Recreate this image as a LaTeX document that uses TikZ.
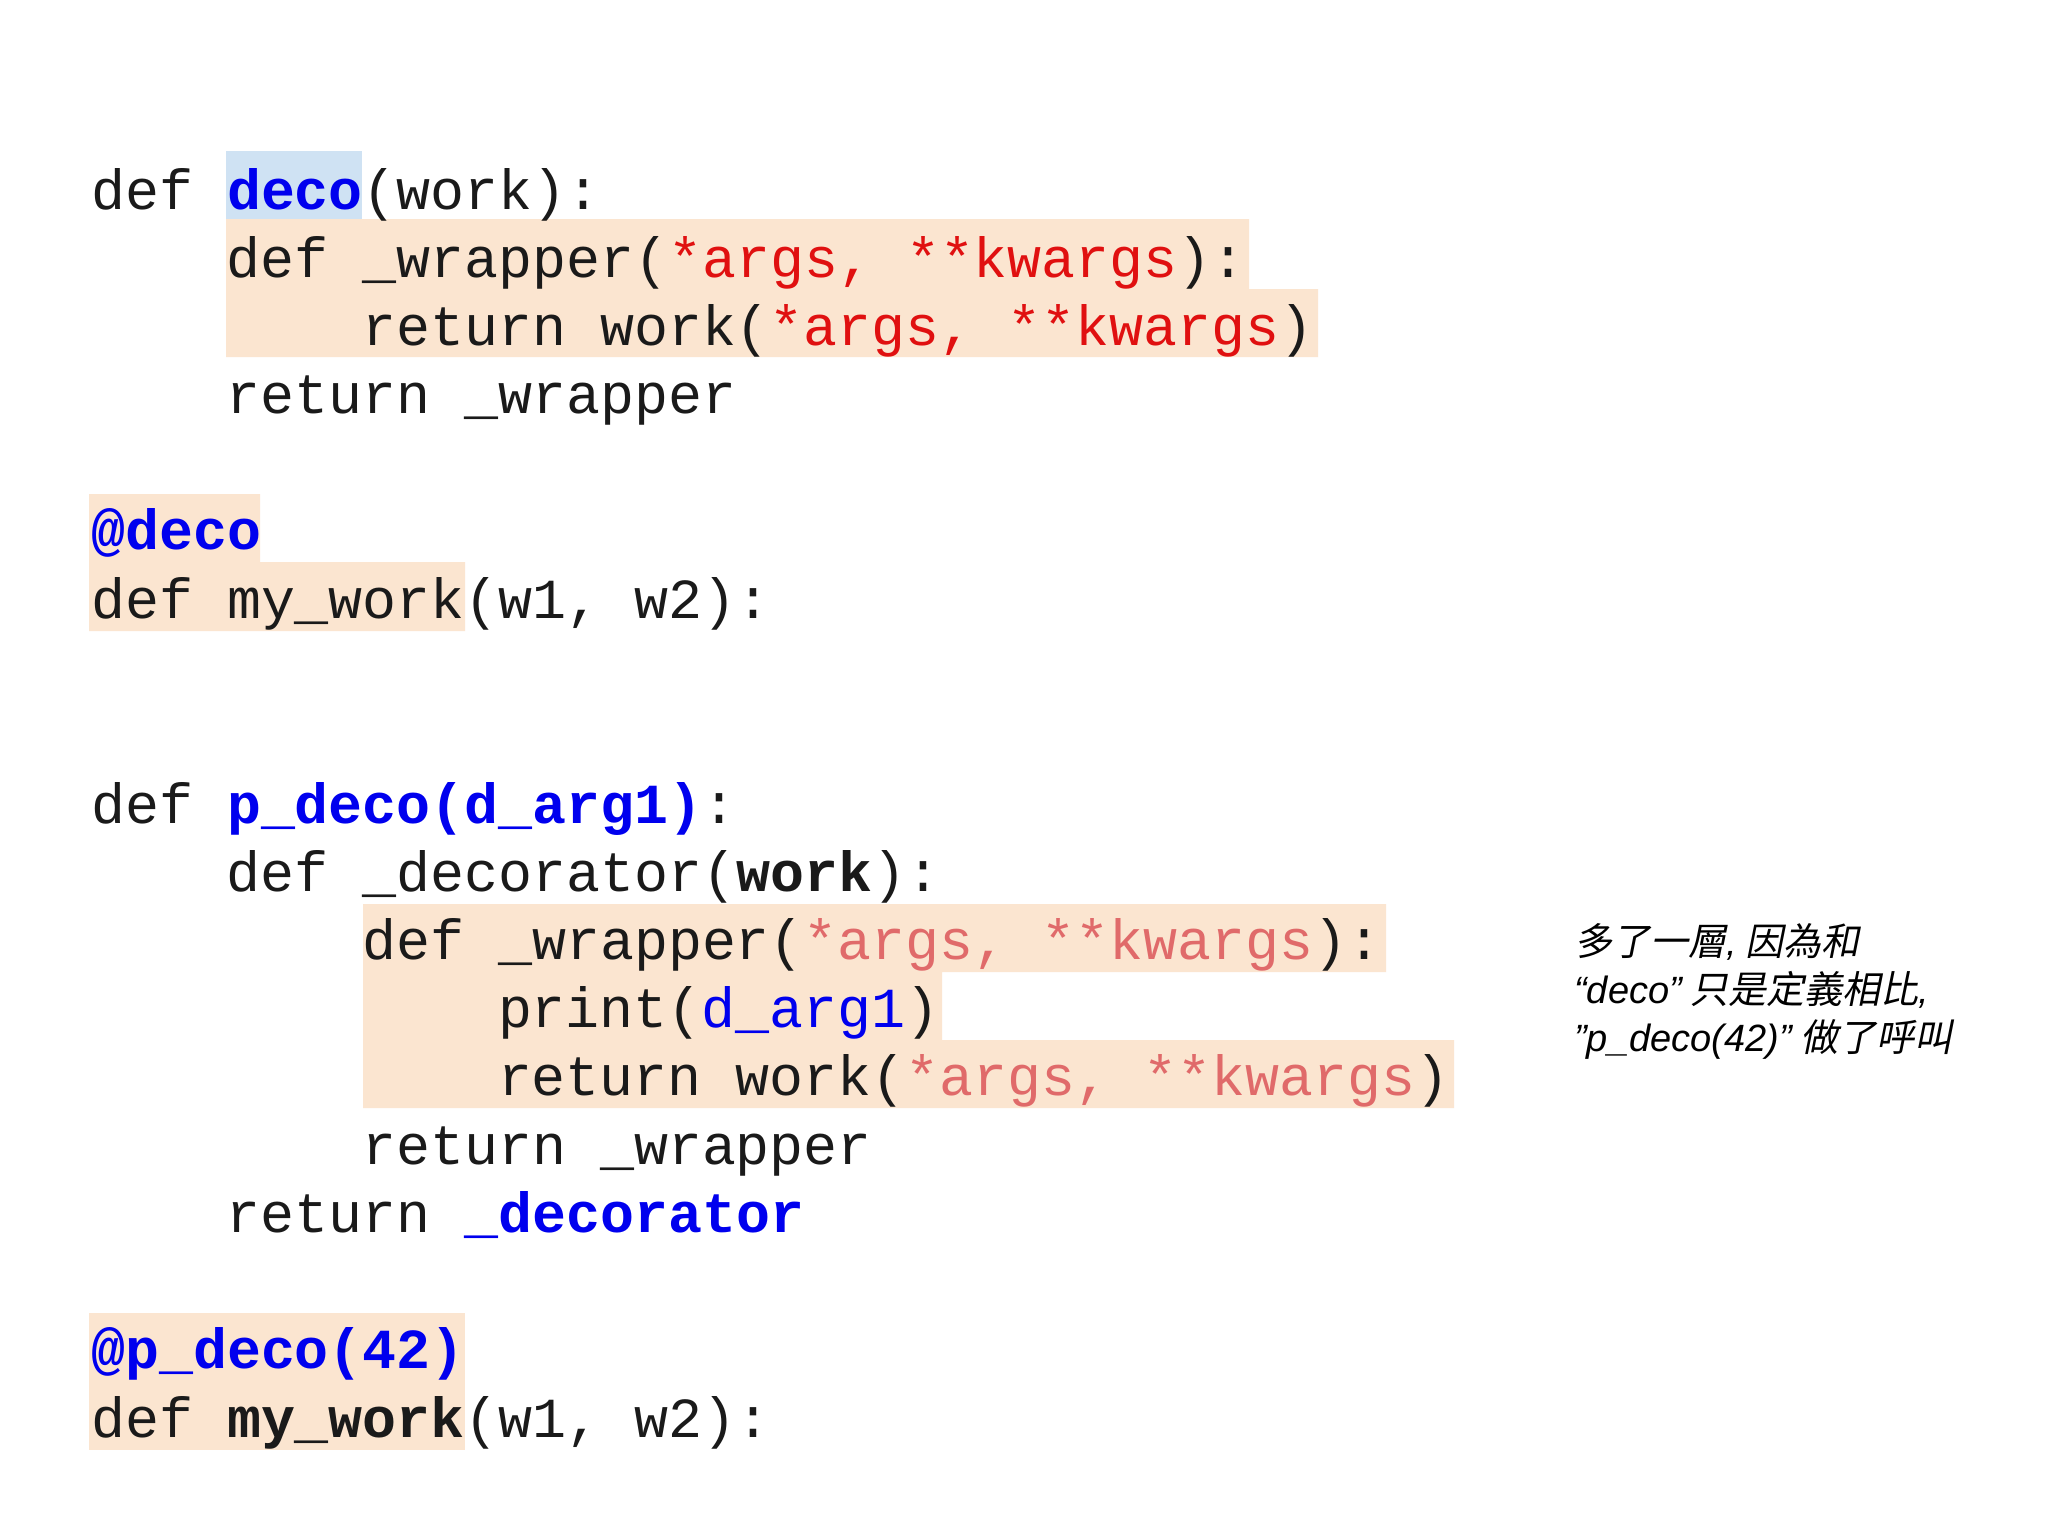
\documentclass[tikz,border=0pt]{standalone}
\usepackage{fontspec}
\setmonofont{Liberation Mono}
\newfontfamily\cjk[FakeSlant=0.2]{Noto Sans CJK TC}
\newfontfamily\latn{Liberation Sans}
\definecolor{hlo}{HTML}{FBE5D0}
\definecolor{hlb}{HTML}{CFE2F3}
\definecolor{kb}{HTML}{0000EE}
\definecolor{kr}{HTML}{E01010}
\definecolor{kl}{HTML}{E06A6A}
\definecolor{tx}{HTML}{1A1A1A}
\newcommand{\kwB}[1]{\textcolor{kb}{\textbf{#1}}}
\newcommand{\kwR}[1]{\textcolor{kr}{#1}}
\newcommand{\kwL}[1]{\textcolor{kl}{#1}}
\begin{document}
\begin{tikzpicture}[x=1pt,y=-1pt,
  code/.style={anchor=base west,inner sep=0pt,text=tx,font=\fontsize{56.6}{56}\selectfont\ttfamily},
  note/.style={anchor=base west,inner sep=0pt,text=black,font=\fontsize{38}{38}\selectfont\cjk}]
\fill[white] (0,0) rectangle (2048,1536);
\useasboundingbox (0,0) rectangle (2048,1536);
% highlights
\fill[hlb] (226,151) rectangle (362,219);
\fill[hlo] (226,219) -- (1249,219) -- (1249,289) -- (1318,289) -- (1318,357) -- (226,357) -- cycle;
\fill[hlo] (89,494) -- (260,494) -- (260,562) -- (465,562) -- (465,631) -- (89,631) -- cycle;
\fill[hlo] (363,904) -- (1386,904) -- (1386,972) -- (942,972) -- (942,1040) -- (1454,1040) -- (1454,1108) -- (363,1108) -- cycle;
\fill[hlo] (89,1313) rectangle (465,1450);
\def\cw{33.9}
\node[code] (l1) at (91,209) {def \kwB{deco}(work):};
\node[code] (l2) at (91+4*\cw,277) {def \_wrapper(\kwR{*args, **kwargs}):};
\node[code] (l3) at (91+8*\cw,345) {return work(\kwR{*args, **kwargs})};
\node[code] (l4) at (91+4*\cw,413) {return \_wrapper};
\node[code] (l5) at (91,549) {\kwB{@deco}};
\node[code] (l6) at (91,618) {def my\_work(w1, w2):};
\node[code] (m1) at (91,823) {def \kwB{p\_deco(d\_arg1)}:};
\node[code] (m2) at (91+4*\cw,891) {def \_decorator(\textbf{work}):};
\node[code] (m3) at (91+8*\cw,959) {def \_wrapper(\kwL{*args, **kwargs}):};
\node[code] (m4) at (91+12*\cw,1027) {print(\textcolor{kb}{d\_arg1})};
\node[code] (m5) at (91+12*\cw,1095) {return work(\kwL{*args, **kwargs})};
\node[code] (m6) at (91+8*\cw,1164) {return \_wrapper};
\node[code] (m7) at (91+4*\cw,1232) {return \kwB{\_decorator}};
\node[code] (m8) at (91,1368) {\kwB{@p\_deco(42)}};
\node[code] (m9) at (91,1437) {def \textbf{my\_work}(w1, w2):};
% note
\node[note] (n1) at (1574,955) {多了一層{\latn\itshape,} 因為和};
\node[note] (n2) at (1574,1003) {{\latn\itshape “deco”} 只是定義相比{\latn\itshape,}};
\node[note] (n3) at (1574,1051) {{\latn\itshape ”p\_deco(42)”} 做了呼叫};
\end{tikzpicture}
\end{document}
